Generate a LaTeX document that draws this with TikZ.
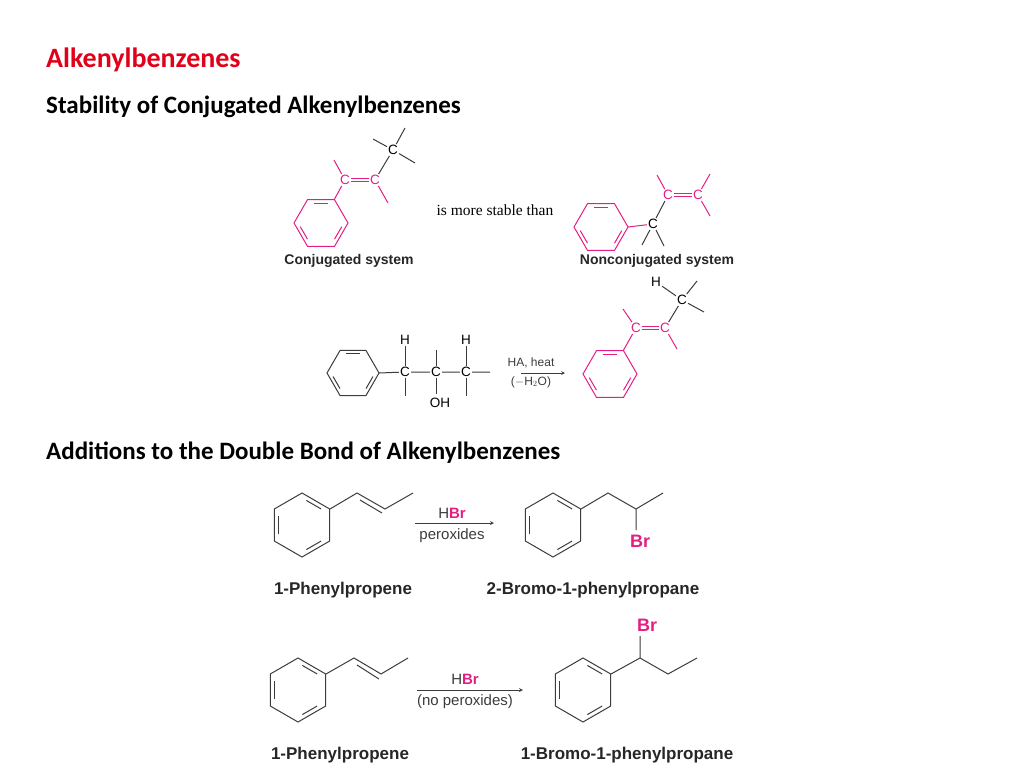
\documentclass[tikz,border=0pt]{standalone}
\usepackage{fontspec}
\setmainfont{Carlito}
\newfontfamily\chemf{Liberation Sans}
\newfontfamily\serf{Liberation Serif}
\usetikzlibrary{calc}
\definecolor{pk}{RGB}{228,30,130}
\definecolor{ttl}{RGB}{225,0,25}
\definecolor{gr}{RGB}{60,60,60}
\tikzset{
 bd/.style={line width=1pt},
 atm/.style={inner sep=1pt,font=\chemf\fontsize{13.5}{13.5}\selectfont},
 lbl/.style={font=\chemf\bfseries\fontsize{14}{15}\selectfont,text=black!85},
 lbl2/.style={font=\chemf\bfseries\fontsize{17}{18}\selectfont,text=black!85},
 cond/.style={font=\chemf\fontsize{15}{16}\selectfont,text=gr},
 head/.style={font=\bfseries\fontsize{25}{27}\selectfont,anchor=west,inner sep=0pt}
}
\newcommand\myring[5]{%
 \begin{scope}[shift={(#1,#2)}]
 \draw[bd,#5] (#4:#3) \foreach \k in {1,...,5}{ -- ({#4+60*\k}:#3)} -- cycle;
 \foreach \k in {0,2,4}{\draw[bd,#5] ({#4+60*\k+10}:0.78*#3) -- ({#4+60*\k+50}:0.78*#3);}
 \end{scope}}
\begin{document}
\begin{tikzpicture}[x=1pt,y=-1pt]
\useasboundingbox (0,0) rectangle (1024,768);
\node[head,text=ttl,font=\bfseries\fontsize{28}{30}\selectfont] (t) at (46,60) {Alkenylbenzenes};
\node[head] (s1) at (46,107) {Stability of Conjugated Alkenylbenzenes};
\node[head] (s2) at (46,453) {Additions to the Double Bond of Alkenylbenzenes};

% conjugated system
\myring{321}{223}{27}{0}{pk}
\node[atm,text=pk] (a1) at (345,180) {C};
\node[atm,text=pk] (a2) at (375,180) {C};
\node[atm] (a3) at (393,150) {C};
\draw[bd,pk] (334,200) -- (a1);
\draw[bd,pk] ([yshift=-1.5]a1.east) -- ([yshift=-1.5]a2.west) ([yshift=1.5]a1.east) -- ([yshift=1.5]a2.west);
\draw[bd,pk] (a1) -- (334,160);
\draw[bd,pk] (a2) -- (388,203);
\draw[bd,gr] (a2) -- (a3);
\draw[bd,gr] (a3) -- (405,128) (a3) -- (373,139) (a3) -- (415,163);
\node[font=\serf\fontsize{15.5}{16}\selectfont] (ms) at (495,210) {is more stable than};
\node[lbl] (c1) at (349,261) {Conjugated system};

% nonconjugated
\myring{601}{227}{27}{0}{pk}
\node[atm] (b1) at (653,224) {C};
\node[atm,text=pk] (b2) at (668,195) {C};
\node[atm,text=pk] (b3) at (698,195) {C};
\draw[bd,pk] (628,227) -- (b1);
\draw[bd,gr] (b1) -- (b2) (b1) -- (642,245) (b1) -- (664,246);
\draw[bd,pk] ([yshift=-1.5]b2.east) -- ([yshift=-1.5]b3.west) ([yshift=1.5]b2.east) -- ([yshift=1.5]b3.west);
\draw[bd,pk] (b2) -- (657,175) (b3) -- (710,174) (b3) -- (710,216);
\node[lbl] (c2) at (657,261) {Nonconjugated system};

% dehydration
\myring{353}{373}{26}{0}{gr}
\node[atm] (d1) at (405,372) {C};
\node[atm] (d2) at (436,372) {C};
\node[atm] (d3) at (466,372) {C};
\node[atm] (h1) at (405,340) {H};
\node[atm] (h3) at (466,340) {H};
\node[atm] (oh) at (440,403) {OH};
\draw[bd,gr] (379,373) -- (d1) -- (d2) -- (d3) -- (490,372);
\draw[bd,gr] (d1) -- (h1) (d3) -- (h3) (d2) -- (436,350) (d2) -- (436,394);
\draw[bd,gr] (d1) -- (405,396) (d3) -- (466,396);
\coordinate (r1) at (521,373); \coordinate (r2) at (565,373);
\draw[gr,line width=0.7pt,-stealth] (r1) -- (r2);
\node[cond,font=\chemf\fontsize{12}{12}\selectfont] (k1) at (531,363) {HA, heat};
\node[cond,font=\chemf\fontsize{12}{12}\selectfont] (k2) at (531,382) {($-$H$_2$O)};
\myring{610}{374}{27}{0}{pk}
\node[atm,text=pk] (e1) at (636,328) {C};
\node[atm,text=pk] (e2) at (665,328) {C};
\node[atm] (e3) at (682,300) {C};
\node[atm] (eh) at (656,282) {H};
\draw[bd,pk] (623,351) -- (e1);
\draw[bd,pk] ([yshift=-1.5]e1.east) -- ([yshift=-1.5]e2.west) ([yshift=1.5]e1.east) -- ([yshift=1.5]e2.west);
\draw[bd,pk] (e1) -- (623,309) (e2) -- (677,349);
\draw[bd,gr] (e2) -- (e3) (e3) -- (eh) (e3) -- (697,281) (e3) -- (704,312);

% reaction 1
\myring{302}{525}{32}{30}{gr}
\draw[bd,gr] (330,509) -- (357,493) -- (385,509) -- (413,493);
\draw[bd,gr] (360,500) -- (382,513);
\coordinate (p1) at (415,523); \coordinate (p2) at (494,523);
\draw[gr,line width=0.8pt,-stealth] (p1) -- (p2);
\node[cond] (q1) at (452,513) {H\textcolor{pk}{\bfseries Br}};
\node[cond] (q2) at (452,536) {peroxides};
\myring{553}{525}{32}{30}{gr}
\draw[bd,gr] (581,509) -- (608,493) -- (636,509) -- (663,493) (636,509) -- (636,530);
\node[atm,text=pk,font=\chemf\bfseries\fontsize{18}{18}\selectfont] (br1) at (640,541) {Br};
\node[lbl2] (l1) at (343,590) {1-Phenylpropene};
\node[lbl2] (l2) at (593,590) {2-Bromo-1-phenylpropane};

% reaction 2
\myring{298}{690}{32}{30}{gr}
\draw[bd,gr] (326,674) -- (354,658) -- (381,674) -- (408,658);
\draw[bd,gr] (357,665) -- (379,679);
\coordinate (u1) at (417,690); \coordinate (u2) at (523,690);
\draw[gr,line width=0.8pt,-stealth] (u1) -- (u2);
\node[cond] (v1) at (465,679) {H\textcolor{pk}{\bfseries Br}};
\node[cond] (v2) at (465,702) {(no peroxides)};
\myring{583}{690}{32}{30}{gr}
\draw[bd,gr] (611,674) -- (640,658) -- (668,674) -- (697,658) (640,658) -- (640,636);
\node[atm,text=pk,font=\chemf\bfseries\fontsize{18}{18}\selectfont] (br2) at (647,625) {Br};
\node[lbl2] (l3) at (340,755) {1-Phenylpropene};
\node[lbl2] (l4) at (627,755) {1-Bromo-1-phenylpropane};
\end{tikzpicture}
\end{document}
